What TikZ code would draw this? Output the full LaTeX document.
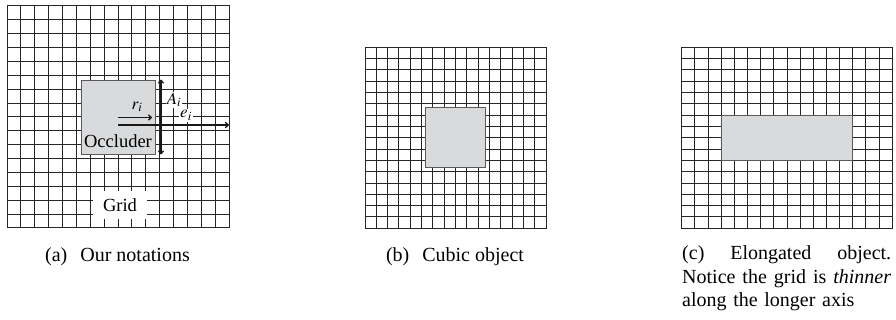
\documentclass[tikz,border=0pt]{standalone}
\usepackage{mathptmx}
\usepackage{fontspec}
\setmainfont{Liberation Serif}
\usepackage{tikz}
\usetikzlibrary{arrows.meta,positioning}
\definecolor{occgray}{HTML}{D9DADC}
\definecolor{occedge}{HTML}{5A5A5C}
% 16x16 grid: #1,#2 top left corner, #3 width, #4 height
\newcommand{\occgrid}[4]{%
  \foreach \k in {0,...,16}{
    \draw[gridline] ({#1+\k*#3/16},#2) -- ({#1+\k*#3/16},{#2+#4});
    \draw[gridline] (#1,{#2+\k*#4/16}) -- ({#1+#3},{#2+\k*#4/16});
  }}

\begin{document}
\begin{tikzpicture}[
  x=1pt, y=-1pt,
  gridline/.style={line width=1pt, black!85, line cap=rect},
  occ/.style={draw=occedge, fill=occgray, line width=0.9pt, inner sep=0pt},
  lbl/.style={font=\fontsize{18.5}{22}\selectfont, inner sep=1pt},
  mlbl/.style={font=\fontsize{17}{20}\selectfont, inner sep=1.2pt},
  capt/.style={font=\fontsize{20}{23.5}\selectfont, inner sep=0pt},
  arr/.style={-{To[length=4pt,width=6pt]}, line width=1.3pt, black!90}
]
  \useasboundingbox (0,0) rectangle (896,320);

  % (a) notations
  \occgrid{7}{6}{222}{222}
  \node[occ, minimum width=74pt, minimum height=74pt] (occA) at (118,117) {};
  \node[lbl, anchor=base] (occlbl) at (118,147.5) {Occluder};
  \node[lbl, fill=white, minimum width=54pt, minimum height=28pt] (gridlbl) at (120,205) {Grid};

  \coordinate (rEnd) at (152,117.5);
  \coordinate (eEnd) at (229,125);
  \draw[arr] ([yshift=-0.5pt]occA.center) -- (rEnd);
  \draw[arr] ([yshift=-8pt]occA.center) -- (eEnd);
  \draw[arr, {To[length=4pt,width=6pt]}-{To[length=4pt,width=6pt]}]
    ([xshift=5.5pt]occA.north east) -- ([xshift=5.5pt]occA.south east);

  \node[mlbl] (rlab) at (137,107) {$r_i$};
  \node[mlbl, fill=white] (Alab) at (174,100) {$A_i$};
  \node[mlbl, fill=white] (elab) at (186,115.5) {$e_i$};

  % (b) cubic object
  \occgrid{365}{47.3}{181}{181}
  \node[occ, minimum width=60.3pt, minimum height=60.3pt] (occB) at (455.5,137.8) {};

  % (c) elongated object
  \occgrid{681.7}{47.3}{210.6}{181}
  \node[occ, minimum width=131.6pt, minimum height=45.2pt] (occC) at (787,137.8) {};

  % captions
  \node[capt, anchor=base] (capA) at (117.5,261.5) {(a)\hspace{0.65em}Our notations};
  \node[capt, anchor=base] (capB) at (455,261.5) {(b)\hspace{0.65em}Cubic object};
  \node[capt, anchor=north west, text width=209pt, align=left] (capC) at (682,245.5)
    {\hyphenpenalty=10000 (c)\hfill Elongated\hfill object.\\
     Notice\hfill the\hfill grid\hfill is\hfill \emph{thinner}\\
     along the longer axis};
\end{tikzpicture}
\end{document}
